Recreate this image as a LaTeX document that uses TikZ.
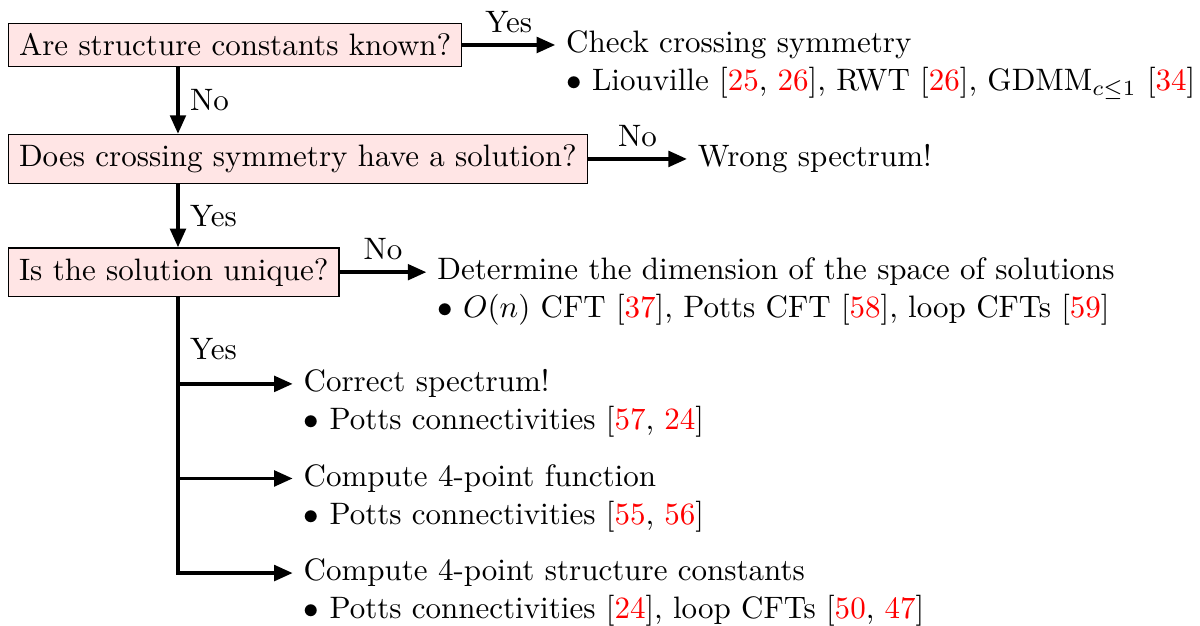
\documentclass[tikz,border=0pt]{standalone}
\usepackage{amsmath,amssymb}
\usepackage{xcolor}
\usetikzlibrary{arrows.meta,positioning}
\newcommand{\refno}[1]{\textcolor{red}{#1}}

\begin{document}
\begin{tikzpicture}[
  qbox/.style={draw,fill=red!10,anchor=west},
  res/.style={inner ysep=0pt,text height=7pt,text depth=2pt},
  arr/.style={-{Triangle[length=6pt,width=5pt]},line width=1.2pt}]
  \useasboundingbox (0,0) rectangle (387pt,-201.6pt);
  \coordinate (spine) at (57.4pt,0);
  % questions
  \node[qbox] (q1) at (2.6pt,-14.5pt) {Are structure constants known?};
  \node[qbox,below right=21.5pt and 0pt of q1.south west] (q2)
    {Does crossing symmetry have a solution?};
  \node[qbox,below right=20.4pt and 0pt of q2.south west] (q3)
    {Is the solution unique?};
  % outcomes
  \node[res,right=30pt of q1] (chk) {Check crossing symmetry};
  \node[res,below right=2.8pt and 0pt of chk.south west] (chkrefs)
    {$\bullet$ Liouville [\refno{25}, \refno{26}], RWT [\refno{26}], GDMM$_{c\leq 1}$ [\refno{34}]};
  \node[res,right=32pt of q2] (wrong) {Wrong spectrum!};
  \node[res,right=28pt of q3] (dim) {Determine the dimension of the space of solutions};
  \node[res,below right=2.8pt and 0pt of dim.south west] (dimrefs)
    {$\bullet$ $O(n)$ CFT [\refno{37}], Potts CFT [\refno{58}], loop CFTs [\refno{59}]};
  \coordinate (b1) at ([yshift=-28pt]q3.south -| spine);
  \coordinate[below=30.5pt of b1] (b2);
  \coordinate[below=30.5pt of b2] (b3);
  \node[res,right=37pt of b1] (cor) {Correct spectrum!};
  \node[res,below right=2.8pt and 0pt of cor.south west] (correfs)
    {$\bullet$ Potts connectivities [\refno{57}, \refno{24}]};
  \node[res,right=37pt of b2] (fun) {Compute 4-point function};
  \node[res,below right=2.8pt and 0pt of fun.south west] (funrefs)
    {$\bullet$ Potts connectivities [\refno{55}, \refno{56}]};
  \node[res,right=37pt of b3] (sc) {Compute 4-point structure constants};
  \node[res,below right=2.8pt and 0pt of sc.south west] (screfs)
    {$\bullet$ Potts connectivities [\refno{24}], loop CFTs [\refno{50}, \refno{47}]};
  % connectors
  \draw[arr] (q1) -- node[above] {Yes} (chk);
  \draw[arr] (q2) -- node[above] {No} (wrong);
  \draw[arr] (q3) -- node[above] {No} (dim);
  \draw[arr] (q1.south -| spine) -- node[right] {No} (q2.north -| spine);
  \draw[arr] (q2.south -| spine) -- node[right] {Yes} (q3.north -| spine);
  \draw[arr] (q3.south -| spine) -- node[right,pos=0.6] {Yes} (b1) -- (b3) -- (sc);
  \draw[arr] (b1) -- (cor);
  \draw[arr] (b2) -- (fun);
\end{tikzpicture}
\end{document}
